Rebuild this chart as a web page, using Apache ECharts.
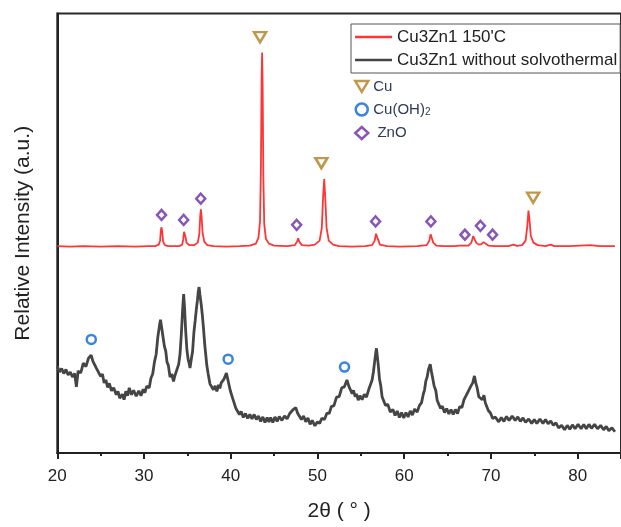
<!DOCTYPE html>
<html>
<head>
<meta charset="utf-8">
<script src="https://cdn.jsdelivr.net/npm/echarts@6/dist/echarts.min.js"></script>
<style>
html,body{margin:0;padding:0;background:#fff;}
#chart{width:621px;height:527px;}
</style>
</head>
<body>
<div id="chart"></div>
<script>
// x: 2θ (degrees), y: relative intensity (arbitrary units)
const xTicks = [20, 30, 40, 50, 60, 70, 80];

const cu150 = [
  [20.0, 209.5], [21.5, 209], [23, 209.5], [25, 209], [27, 209.5], [29, 209], [30.5, 209.5],
  [31.3, 209.5], [31.7, 211], [31.85, 215], [31.95, 226], [32.02, 228.5], [32.1, 224], [32.2, 214], [32.4, 210.5], [32.8, 209.5],
  [33.5, 209.5], [34.1, 209.5], [34.4, 211], [34.52, 216], [34.62, 224], [34.68, 224.5], [34.78, 219], [34.9, 213], [35.2, 210.5],
  [35.8, 210.5], [36.2, 213], [36.38, 222], [36.48, 240], [36.56, 246.8], [36.65, 238], [36.75, 223], [36.95, 214], [37.3, 210.5],
  [38, 209.5], [39.5, 209], [41, 209.5],
  [42.2, 210], [42.9, 212], [43.2, 218], [43.38, 235], [43.48, 290], [43.56, 380], [43.62, 405.5], [43.68, 370], [43.76, 280], [43.86, 232], [44.05, 217], [44.4, 212], [45, 210],
  [46.5, 209.5], [47.4, 210.5], [47.65, 214], [47.78, 217.5], [47.9, 214], [48.2, 210.5], [49.0, 210],
  [49.7, 211], [50.25, 215], [50.5, 228], [50.65, 260], [50.78, 277.5], [50.9, 258], [51.05, 228], [51.3, 215], [51.8, 211], [52.5, 209.5],
  [54, 209], [55.5, 209.5], [56.3, 210.5], [56.6, 215], [56.75, 222], [56.82, 222.5], [56.95, 217], [57.2, 211], [58, 209.5],
  [59.5, 209], [61.5, 209.5], [62.6, 210.5], [62.9, 215], [63.05, 221.5], [63.15, 220], [63.35, 213], [63.7, 210], [64.5, 209.5],
  [65.8, 209.5], [66.4, 210], [66.6, 211.5], [66.8, 210],
  [67.4, 210], [67.75, 213], [67.95, 219.5], [68.1, 218], [68.3, 213], [68.6, 211],
  [68.9, 211.5], [69.15, 213.5], [69.35, 212.5], [69.7, 210], [70.5, 209.5],
  [72.0, 209.5], [72.6, 211], [73.0, 209.8],
  [73.6, 210.5], [74.0, 215], [74.2, 230], [74.33, 245.5], [74.45, 236], [74.6, 220], [74.9, 213], [75.4, 210.5],
  [76.3, 209.5], [76.9, 211], [77.3, 209.5], [79, 209.5], [81.5, 210.5], [82.5, 209.5], [84.3, 209.5]
];

const cuNoSolvo = [
  [20.0, 88], [20.25, 82], [20.5, 85.5], [20.75, 80.5], [21.0, 84.5], [21.25, 79], [21.5, 82], [21.75, 77], [22.0, 80.5], [22.2, 67], [22.4, 83], [22.7, 81],
  [23.0, 91], [23.3, 87.5], [23.6, 96], [23.9, 99], [24.1, 93], [24.3, 94], [24.5, 86], [24.7, 88], [25.0, 77.5], [25.2, 80], [25.4, 71], [25.6, 74],
  [25.8, 66.5], [26.0, 70.5], [26.25, 63], [26.5, 66], [26.8, 59], [27.0, 62.5], [27.2, 55.5], [27.5, 59.5], [27.7, 54], [27.9, 62.5], [28.1, 58], [28.3, 66],
  [28.55, 59], [28.8, 63.5], [29.1, 57.5], [29.4, 63], [29.65, 58], [29.9, 64.5], [30.1, 61], [30.3, 67.5], [30.6, 66], [30.8, 76], [31.0, 80], [31.2, 92],
  [31.4, 100], [31.6, 118], [31.8, 130], [31.9, 135], [32.0, 129], [32.2, 117], [32.35, 108], [32.5, 103.5], [32.65, 92], [32.8, 89], [33.0, 77], [33.2, 80],
  [33.4, 72.5], [33.55, 78], [33.7, 79], [33.85, 86], [34.0, 90], [34.15, 100], [34.3, 120], [34.45, 145], [34.57, 161], [34.68, 146], [34.8, 124], [34.95, 104],
  [35.1, 94], [35.2, 91], [35.3, 86], [35.45, 95], [35.6, 103], [35.75, 122], [35.9, 134], [36.05, 147], [36.15, 154], [36.25, 163], [36.35, 168], [36.45, 160],
  [36.6, 150], [36.72, 140], [36.85, 127], [37.0, 110], [37.1, 101], [37.25, 88], [37.4, 80], [37.6, 70], [37.8, 72], [38.0, 64], [38.2, 68], [38.4, 62.5],
  [38.6, 69], [38.75, 65.5], [38.9, 71], [39.05, 69], [39.2, 74.5], [39.35, 76], [39.5, 81], [39.65, 75], [39.8, 74], [39.95, 63], [40.1, 63.5], [40.25, 54.5],
  [40.4, 53], [40.6, 45], [40.8, 45.5], [41.0, 39], [41.2, 42], [41.45, 36], [41.7, 40], [41.95, 35], [42.2, 39], [42.45, 34.5], [42.7, 39], [42.95, 34],
  [43.2, 37.5], [43.45, 32], [43.7, 36.5], [43.95, 31], [44.2, 36], [44.4, 31.5], [44.6, 36], [44.85, 31], [45.1, 36.5], [45.35, 32], [45.6, 37], [45.9, 33],
  [46.2, 37.5], [46.5, 34.5], [46.8, 40], [47.0, 38.5], [47.2, 44], [47.35, 42], [47.5, 46], [47.7, 40.5], [47.9, 42], [48.15, 34], [48.4, 37.5], [48.65, 31.5],
  [48.9, 35.5], [49.15, 29], [49.4, 33], [49.7, 27.5], [50.0, 31.5], [50.25, 30], [50.5, 35], [50.8, 34], [51.1, 40.5], [51.35, 40], [51.6, 47], [51.9, 48],
  [52.2, 56.5], [52.5, 57], [52.8, 66], [53.1, 67], [53.4, 74], [53.6, 68], [53.8, 68.5], [54.0, 60], [54.15, 63.5], [54.35, 57], [54.5, 60], [54.7, 53.5],
  [54.9, 58], [55.15, 54], [55.4, 59.5], [55.65, 56.5], [55.9, 64], [56.1, 64], [56.3, 74], [56.45, 82], [56.6, 93], [56.7, 100], [56.8, 106], [56.9, 98],
  [57.0, 90], [57.15, 75], [57.3, 68], [57.45, 57], [57.6, 58], [57.85, 48], [58.1, 49.5], [58.4, 41.5], [58.7, 44], [58.95, 38], [59.2, 42.5], [59.45, 36],
  [59.7, 41], [59.95, 35.5], [60.2, 41], [60.45, 36.5], [60.7, 42.5], [60.95, 38.5], [61.2, 44.5], [61.5, 41.5], [61.75, 48], [62.0, 51], [62.2, 59.5], [62.35, 64],
  [62.5, 73], [62.65, 77], [62.8, 84.5], [62.9, 87], [63.0, 90], [63.15, 82], [63.3, 80], [63.45, 68], [63.65, 63], [63.8, 53.5], [64.0, 54], [64.2, 45],
  [64.4, 47.5], [64.65, 41], [64.9, 45], [65.15, 39.5], [65.4, 44], [65.65, 39], [65.9, 44], [66.15, 40], [66.4, 47], [66.65, 46], [66.9, 54], [67.1, 53],
  [67.3, 61], [67.5, 60], [67.7, 68], [67.9, 71], [68.1, 78], [68.25, 71], [68.4, 66.5], [68.6, 57], [68.8, 57.5], [69.0, 54], [69.2, 58.5], [69.35, 51],
  [69.5, 49], [69.7, 43], [69.95, 40.5], [70.2, 35], [70.5, 36.5], [70.9, 31.5], [71.2, 36], [71.5, 32], [71.8, 37], [72.1, 33], [72.45, 37.5], [72.8, 33],
  [73.1, 36.5], [73.4, 32], [73.7, 35.5], [74.0, 31], [74.35, 34.5], [74.7, 30], [75.0, 34], [75.3, 30], [75.65, 34.5], [76.0, 30], [76.3, 34], [76.6, 29.5],
  [76.9, 32.5], [77.2, 28], [77.5, 30.5], [77.8, 25.5], [78.15, 28], [78.5, 23.5], [78.8, 28], [79.1, 24], [79.4, 28.5], [79.7, 24.5], [80.05, 29], [80.4, 24.5],
  [80.7, 29], [81.0, 24.5], [81.3, 29], [81.6, 25], [81.95, 29], [82.3, 24.5], [82.65, 28], [83.0, 23.5], [83.3, 27], [83.6, 22.5], [83.95, 25.5], [84.3, 21.5]
];

const cuMarks = [[43.38, 421], [50.45, 293.5], [74.87, 258.5]];
const cuOH2Marks = [[23.92, 115], [39.7, 95], [53.12, 87]];
const znoMarks = [[32.02, 241], [34.57, 236], [36.54, 257.5], [47.6, 231], [56.7, 234.5], [63.08, 234.5], [67.0, 221], [68.79, 230], [70.19, 221]];

const FONT = '"Liberation Sans", Arial, sans-serif';
const C_RED = '#ff3535', C_BLK = '#454545', C_CU = '#b07d1e', C_OH = '#0a64d8', C_ZNO = '#6a2ca8';
const DOWN_TRI = 'path://M0,0 L12,0 L6,10 Z';
const chart = echarts.init(document.getElementById('chart'), null, {renderer: 'canvas'});

chart.setOption({
  animation: false,
  backgroundColor: '#ffffff',
  textStyle: {fontFamily: FONT},
  grid: {left: 57.3, top: 13.5, right: -7, bottom: 68.5, show: true, borderColor: '#2a2a2a', borderWidth: 2, backgroundColor: 'transparent'},
  legend: [
    {
      data: [{name: 'Cu3Zn1 150\'C', icon: 'rect'}, {name: 'Cu3Zn1 without solvothermal', icon: 'rect'}],
      orient: 'vertical', left: 351, top: 24,
      padding: [4, 3, 4, 4], itemGap: 5, itemWidth: 37, itemHeight: 2.5,
      borderColor: '#555', borderWidth: 1,
      textStyle: {fontFamily: FONT, fontSize: 17, color: '#222', lineHeight: 18}
    },
    {
      data: [{name: 'Cu', icon: DOWN_TRI}, {name: 'Cu(OH)2', icon: 'circle'}, {name: 'ZnO', icon: 'diamond'}],
      orient: 'vertical', left: 354, top: 79,
      padding: 0, itemGap: 8, itemWidth: 13, itemHeight: 12,
      itemStyle: {borderWidth: 2.5},
      textStyle: {fontFamily: FONT, fontSize: 15, color: '#2f3a5a', lineHeight: 15, rich: {sub: {fontSize: 10, color: '#2f3a5a', padding: [6, 0, 0, 0]}}},
      formatter: function (n) { return n === 'Cu(OH)2' ? 'Cu(OH){sub|2}' : (n === 'ZnO' ? ' ZnO' : n); }
    }
  ],
  xAxis: {
    type: 'value', min: 20, max: 85, interval: 10,
    name: '2θ ( ° )', nameLocation: 'middle', nameGap: 48,
    nameTextStyle: {fontFamily: FONT, fontSize: 21, color: '#222'},
    axisLine: {show: true, onZero: false, lineStyle: {color: '#222', width: 2}},
    axisTick: {show: true, inside: false, length: 6, lineStyle: {color: '#222', width: 2}},
    minorTick: {show: true, splitNumber: 2, length: 3, lineStyle: {color: '#222', width: 2}},
    axisLabel: {fontFamily: FONT, fontSize: 17, color: '#222', margin: 15, showMaxLabel: false,
      formatter: function (v) { return xTicks.indexOf(v) >= 0 ? String(v) : ''; }},
    splitLine: {show: false}
  },
  yAxis: {
    type: 'value', min: 0, max: 445,
    name: 'Relative Intensity (a.u.)', nameLocation: 'middle', nameGap: 24,
    nameTextStyle: {fontFamily: FONT, fontSize: 21, color: '#222'},
    axisLine: {show: true, lineStyle: {color: '#222', width: 2}},
    axisTick: {show: false}, axisLabel: {show: false}, splitLine: {show: false}
  },
  series: [
    {name: 'Cu3Zn1 150\'C', type: 'line', data: cu150, symbol: 'none', color: C_RED,
      lineStyle: {color: C_RED, width: 1.8}, z: 3},
    {name: 'Cu3Zn1 without solvothermal', type: 'line', data: cuNoSolvo, symbol: 'none', color: C_BLK,
      lineStyle: {color: C_BLK, width: 2.8}, z: 2},
    {name: 'Cu', type: 'scatter', data: cuMarks, symbol: 'triangle', symbolRotate: 180, symbolSize: [12, 10],
      itemStyle: {color: 'rgba(255,255,255,0)', borderColor: C_CU, borderWidth: 2.5}, z: 4},
    {name: 'Cu(OH)2', type: 'scatter', data: cuOH2Marks, symbol: 'circle', symbolSize: 9,
      itemStyle: {color: 'rgba(255,255,255,0)', borderColor: C_OH, borderWidth: 2.5}, z: 4},
    {name: 'ZnO', type: 'scatter', data: znoMarks, symbol: 'diamond', symbolSize: [9, 10],
      itemStyle: {color: 'rgba(255,255,255,0)', borderColor: C_ZNO, borderWidth: 2.5}, z: 4}
  ]
});
</script>
</body>
</html>
